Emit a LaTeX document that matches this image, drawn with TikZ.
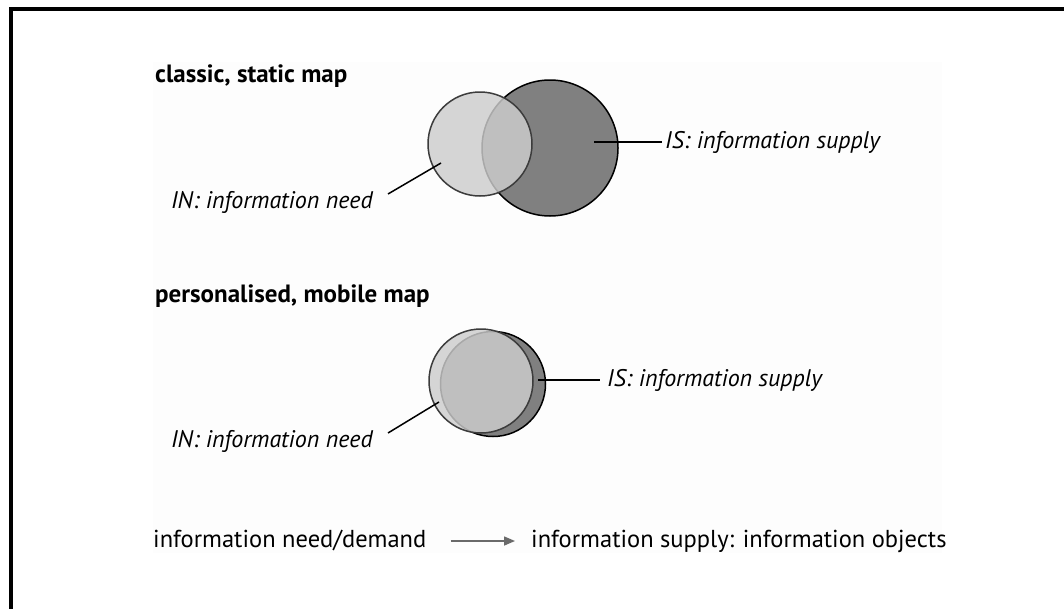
\documentclass[tikz,border=0pt]{standalone}
\usepackage{fontspec}
\setmainfont{PT Sans}
\usetikzlibrary{arrows.meta,positioning}
\definecolor{supply}{HTML}{808080}
\definecolor{need}{HTML}{CDCDCD}
\definecolor{needline}{HTML}{3C3C3C}
\definecolor{panel}{HTML}{FDFDFD}
\definecolor{flowgray}{HTML}{6A6A6A}
\tikzset{%
	title/.style    = {anchor=base west, inner sep=0pt, font=\fontsize{25}{29}\selectfont\bfseries},
	lbl/.style      = {inner sep=0pt, font=\fontsize{24}{28}\selectfont\itshape},
	plain/.style    = {inner sep=0pt, text height=18pt, text depth=6pt, font=\fontsize{24.5}{28}\selectfont},
	supplyset/.style= {circle, draw=black, line width=1.5pt, fill=supply, inner sep=0pt}, % IS
	needset/.style  = {circle, draw=needline, line width=1.5pt, fill=need, fill opacity=0.82, inner sep=0pt}, % IN
	waypoint/.style = {coordinate},
	leader/.style   = {line width=1.5pt},
	flow/.style     = {line width=1.5pt, draw=flowgray, -{Triangle[length=11pt,width=9pt]}},
}
\begin{document}
\begin{tikzpicture}[x=1pt,y=-1pt]
	\useasboundingbox (0,0) rectangle (1064,608);
	\fill[panel] (153,62) rectangle (942,553);
	\draw[line width=3.5pt] (11,620) -- (11,9) -- (1080,9);
	
	% classic, static map
	\node[title] (t1) at (155,82) {classic, static map};
	\node[supplyset,minimum size=136pt] (IS1) at (550,148) {};
	\node[needset,minimum size=104pt] (IN1) at (480,144) {};
	\node[waypoint] (wp1) at (594,142) {};
	\node[waypoint] (wp2) at (662,142) {};
	\node[lbl,anchor=base west] (ISl1) at (665,148) {IS: information supply};
	\node[waypoint] (wp3) at (441,163) {};
	\node[waypoint] (wp4) at (388,194) {};
	\node[lbl,anchor=base east] (INl1) at (373,208) {IN: information need};
	
	\draw[leader] (wp1) -- (wp2);
	\draw[leader] (wp3) -- (wp4);
	
	% personalised, mobile map
	\node[title] (t2) at (155,302) {personalised, mobile map};
	\node[supplyset,minimum size=105pt] (IS2) at (493,384) {};
	\node[needset,minimum size=104pt] (IN2) at (481,381) {};
	\node[waypoint] (wp5) at (538,380) {};
	\node[waypoint] (wp6) at (600,380) {};
	\node[lbl,anchor=base west] (ISl2) at (607,386) {IS: information supply};
	\node[waypoint] (wp7) at (439,402) {};
	\node[waypoint] (wp8) at (388,433) {};
	\node[lbl,anchor=base east] (INl2) at (373,447) {IN: information need};
	
	\draw[leader] (wp5) -- (wp6);
	\draw[leader] (wp7) -- (wp8);
	
	% legend
	\node[plain,anchor=base west] (dem) at (153,547) {information need/demand};
	\node[plain,anchor=base west] (obj) at (531,547) {information supply: information objects};
	\draw[flow,shorten <=24pt,shorten >=16pt] (dem.east) -- (obj.west);
\end{tikzpicture}
\end{document}
